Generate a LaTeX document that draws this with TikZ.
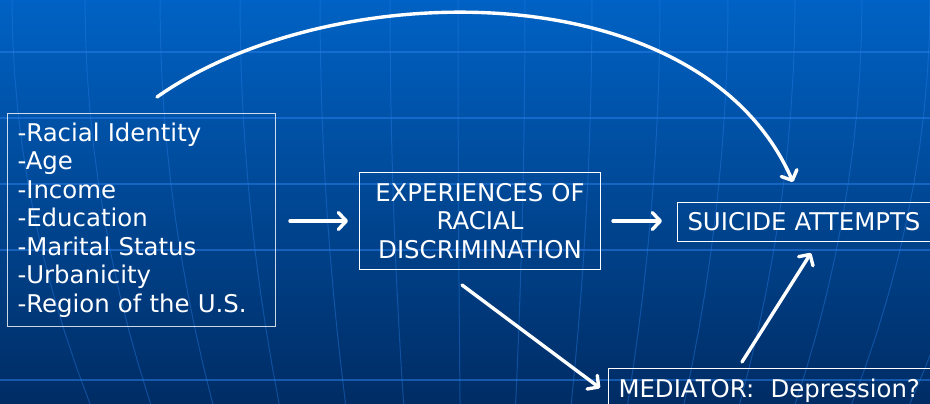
\documentclass[tikz,border=0pt]{standalone}
\usepackage{fontspec}
\setmainfont{DejaVu Sans}
\usetikzlibrary{arrows.meta}
\definecolor{bgtop}{RGB}{0,98,196}
\definecolor{bgmid}{RGB}{0,72,148}
\definecolor{bgbot}{RGB}{0,44,100}
\definecolor{gridc}{RGB}{40,125,230}
\tikzset{
  gridline/.style={draw=gridc, line width=1.2pt, draw opacity=0.55},
  meridian/.style={draw=gridc, line width=1pt, draw opacity=0.4},
  boxnode/.style={draw=white, line width=1pt, text=white, inner sep=0pt,
    font=\fontsize{24.4}{28.5}\selectfont},
  arr/.style={draw=white, line width=3.4pt, line cap=round,
    -{Straight Barb[length=8pt, width=17pt, line cap=round, line join=round]}},
}
\begin{document}
\begin{tikzpicture}[x=1pt, y=-1pt]
\useasboundingbox (0,0) rectangle (930,404);
\shade[top color=bgtop, middle color=bgmid, bottom color=bgbot] (0,0) rectangle (930,404);
% grid
\foreach \yy in {52,118,184,250,380}
  \draw[gridline] (0,\yy) -- (930,\yy);
\foreach \xt in {12,85,160,240,320,390,458,525,592,660,728,795,862,930,1000}
  \draw[meridian, domain=0:404, samples=12, variable=\t]
    plot ({470+(\xt-470)*(1-0.01043*(\t/100)*(\t/100))}, \t);
% nodes
\node[boxnode, draw opacity=0.8, anchor=north west, minimum width=268pt, minimum height=213pt,
  text width=248pt, align=left] (factors) at (7,113)
  {-Racial Identity\\-Age\\-Income\\-Education\\-Marital Status\\-Urbanicity\\-Region of the U.S.};
\node[boxnode, anchor=north west, minimum width=241pt, minimum height=97pt,
  text width=241pt, align=center] (exp) at (359,172)
  {EXPERIENCES OF\\RACIAL\\DISCRIMINATION};
\node[boxnode, anchor=north west, minimum width=262pt, minimum height=39pt,
  text width=242pt, inner xsep=10pt, align=left] (suicide) at (677,202)
  {SUICIDE ATTEMPTS};
\node[boxnode, anchor=north west, minimum width=340pt, text height=18pt, text depth=6pt,
  inner xsep=10pt, inner ysep=11pt, text width=320pt, align=left] (mediator) at (608,368)
  {MEDIATOR:\ \ Depression?};
% connector end points
\coordinate (c0) at (157,97);
\coordinate (c1) at (793,182);
\coordinate (a1s) at (290,221);
\coordinate (a1e) at (348,221);
\coordinate (a2s) at (613,221);
\coordinate (a2e) at (662,221);
\coordinate (a3s) at (462,285);
\coordinate (a3e) at (600,388);
\coordinate (a4s) at (742,362);
\coordinate (a4e) at (811,253);
% connectors
\draw[arr] (c0) .. controls (330,-25) and (700,-30) .. (c1);
\draw[arr] (a1s) -- (a1e);
\draw[arr] (a2s) -- (a2e);
\draw[arr] (a3s) -- (a3e);
\draw[arr] (a4s) -- (a4e);
\end{tikzpicture}
\end{document}
